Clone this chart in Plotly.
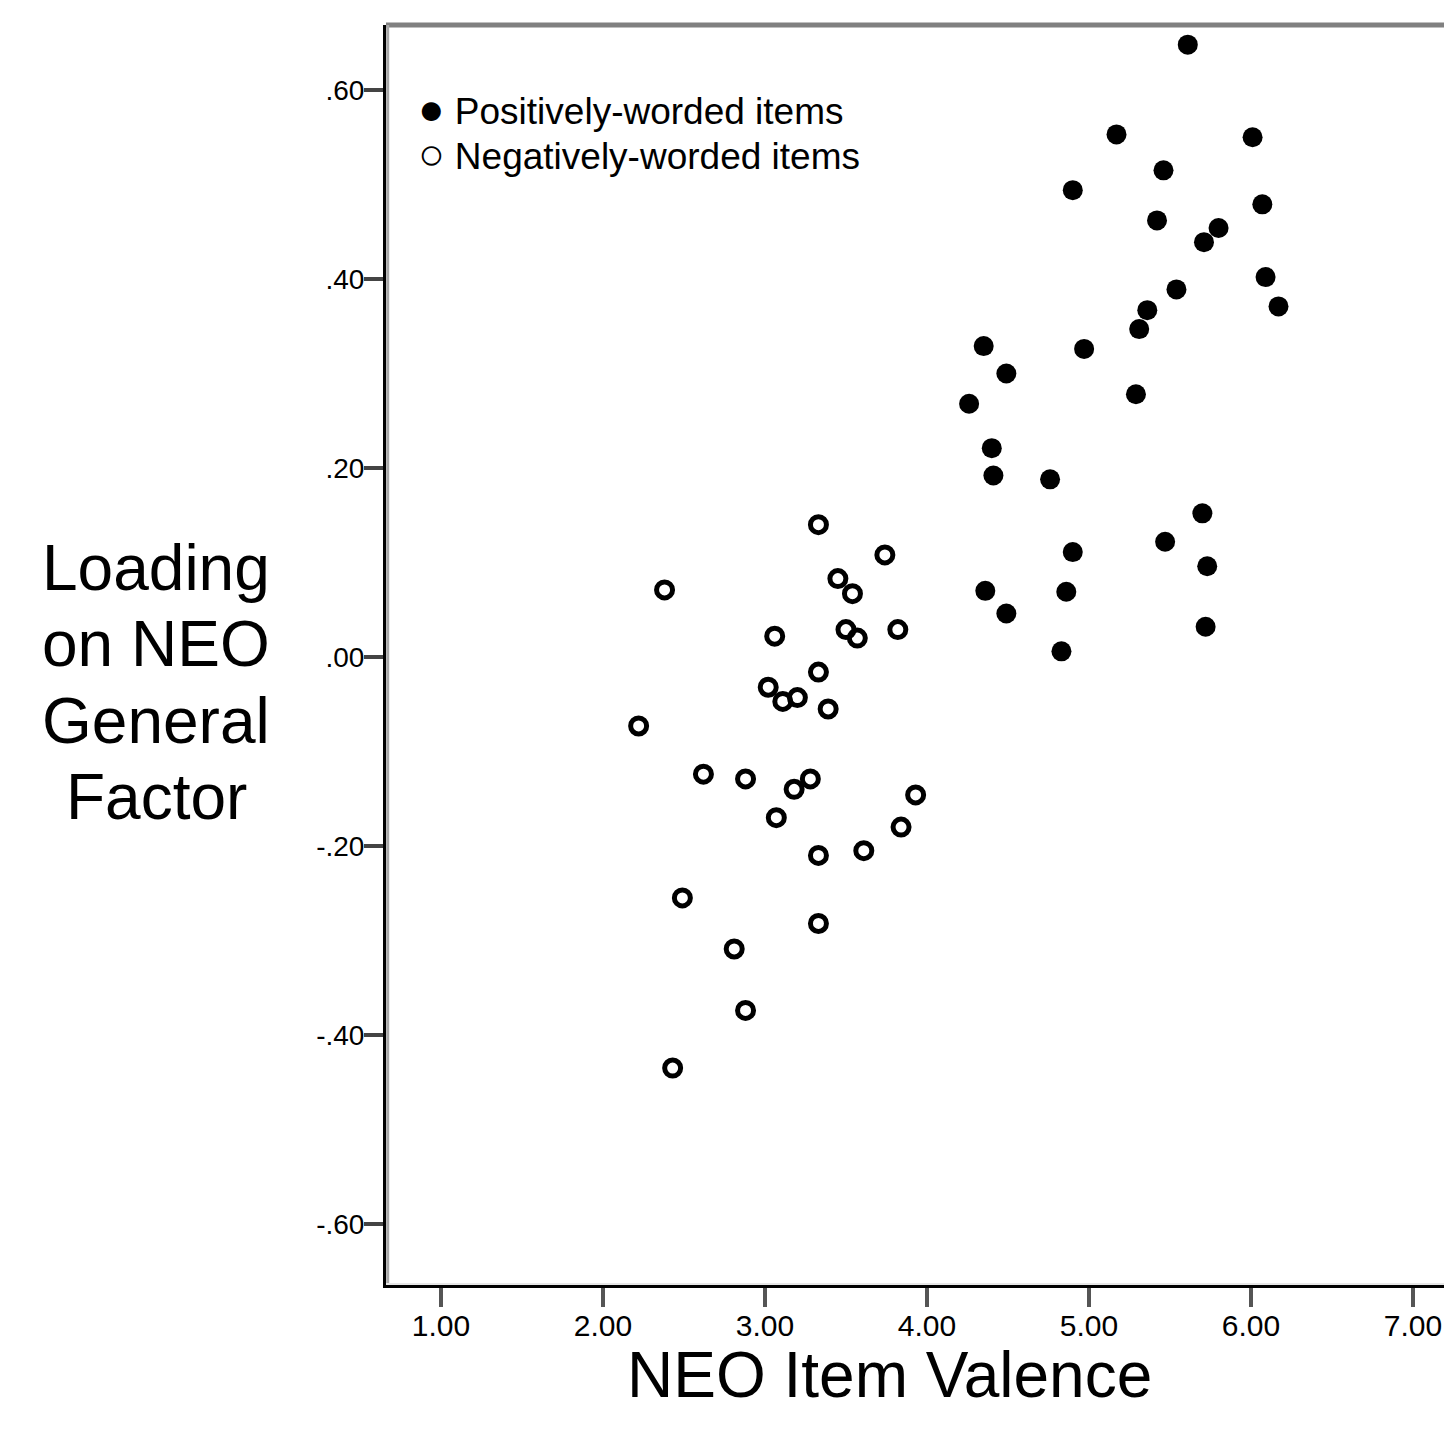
import plotly.graph_objects as go

# Positively-worded items (filled)
pos_valence = [5.61, 5.17, 6.01, 5.46, 4.90, 6.07, 5.42, 5.80, 5.71, 6.09, 5.54, 6.17,
               5.36, 5.31, 4.35, 4.97, 4.49, 5.29, 4.26, 4.40, 4.41, 4.76, 5.70, 5.47,
               4.90, 5.73, 4.36, 4.86, 4.49, 5.72, 4.83]
pos_loading = [0.648, 0.553, 0.550, 0.515, 0.494, 0.479, 0.462, 0.454, 0.439, 0.402, 0.389, 0.371,
               0.367, 0.347, 0.329, 0.326, 0.300, 0.278, 0.268, 0.221, 0.192, 0.188, 0.152, 0.122,
               0.111, 0.096, 0.070, 0.069, 0.046, 0.032, 0.006]

# Negatively-worded items (open)
neg_valence = [3.33, 3.74, 3.45, 3.54, 2.38, 3.06, 3.50, 3.57, 3.82, 3.33, 3.02, 3.11,
               3.20, 3.39, 2.22, 2.62, 2.88, 3.28, 3.18, 3.93, 3.07, 3.84, 3.33, 3.61,
               2.49, 3.33, 2.81, 2.88, 2.43]
neg_loading = [0.140, 0.108, 0.083, 0.067, 0.071, 0.022, 0.029, 0.020, 0.029, -0.016, -0.032, -0.047,
               -0.043, -0.055, -0.073, -0.124, -0.129, -0.129, -0.140, -0.146, -0.170, -0.180, -0.210, -0.205,
               -0.255, -0.282, -0.309, -0.374, -0.435]

x_tickvals = [1, 2, 3, 4, 5, 6, 7]
x_ticktext = ["1.00", "2.00", "3.00", "4.00", "5.00", "6.00", "7.00"]
y_tickvals = [0.6, 0.4, 0.2, 0.0, -0.2, -0.4, -0.6]
y_ticktext = [".60", ".40", ".20", ".00", "-.20", "-.40", "-.60"]

FONT = "Liberation Sans, Arial, sans-serif"

fig = go.Figure()
fig.add_trace(go.Scatter(
    x=pos_valence, y=pos_loading, mode="markers", name="Positively-worded items",
    marker=dict(symbol="circle", size=20, color="black", line=dict(width=0)),
    showlegend=False))
fig.add_trace(go.Scatter(
    x=neg_valence, y=neg_loading, mode="markers", name="Negatively-worded items",
    marker=dict(symbol="circle-open", size=16, color="black", line=dict(width=5, color="black")),
    showlegend=False))

# page body adds an 8px offset, so the figure is sized/margined to compensate
fig.update_layout(
    width=1444, height=1425, autosize=False,
    margin=dict(l=378, r=0, t=17, b=148, pad=0),
    paper_bgcolor="white", plot_bgcolor="white",
    font=dict(family=FONT, color="black"),
    xaxis=dict(range=[0.6605, 7.241], tickvals=x_tickvals, ticktext=x_ticktext,
               showgrid=False, zeroline=False, showline=True, linecolor="black", linewidth=3,
               ticks="outside", ticklen=19, tickwidth=4, tickcolor="#555555",
               ticklabelstandoff=-7,
               tickfont=dict(family=FONT, size=30, color="black")),
    yaxis=dict(range=[-0.6646, 0.6688], tickvals=y_tickvals, ticktext=y_ticktext,
               showgrid=False, zeroline=False, showline=True, linecolor="black", linewidth=3,
               ticks="outside", ticklen=19, tickwidth=4, tickcolor="#444444",
               ticklabelstandoff=-6,
               tickfont=dict(family=FONT, size=28, color="black")),
    shapes=[
        dict(type="line", xref="paper", yref="paper", x0=0, x1=1, y0=1, y1=1,
             line=dict(color="#808080", width=5)),
        dict(type="line", xref="paper", yref="paper", x0=0.0016, x1=0.0016, y0=0, y1=1,
             line=dict(color="#a8a8a8", width=3)),
        dict(type="line", xref="paper", yref="paper", x0=0, x1=1, y0=0.0008, y1=0.0008,
             line=dict(color="#e6e6e6", width=2)),
    ],
)

# y-axis title, one annotation per line
ytitle_lines = ["Loading", "on NEO", "General", "Factor"]
ytitle_ypix = [568, 644, 721, 797]
for txt, yp in zip(ytitle_lines, ytitle_ypix):
    fig.add_annotation(text=txt, xref="paper", yref="paper",
                       x=(156 - 386) / 1066, y=(1285 - yp) / 1260,
                       xanchor="center", yanchor="middle", showarrow=False,
                       font=dict(family=FONT, size=64, color="black"))

fig.add_annotation(text="NEO Item Valence", xref="paper", yref="paper",
                   x=(889 - 386) / 1066, y=(1285 - 1375) / 1260,
                   xanchor="center", yanchor="middle", showarrow=False,
                   font=dict(family=FONT, size=64, color="black"))

legend_lines = ['<span style="font-size:44px">●</span> Positively-worded items',
                '<span style="font-size:44px">○</span> Negatively-worded items']
legend_ypix = [109, 154]
for txt, yp in zip(legend_lines, legend_ypix):
    fig.add_annotation(text=txt, xref="paper", yref="paper",
                       x=(416 - 386) / 1066, y=(1285 - yp) / 1260,
                       xanchor="left", yanchor="middle", showarrow=False,
                       font=dict(family=FONT, size=37, color="black"))

fig.write_html("out.html")
